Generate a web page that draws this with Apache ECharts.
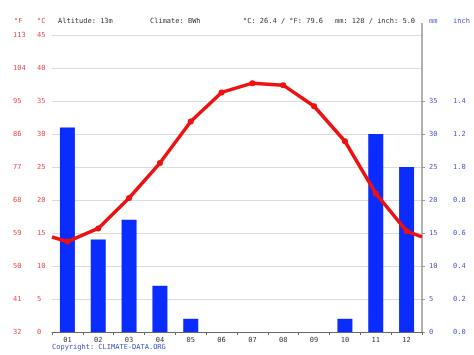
<!DOCTYPE html>
<html><head><meta charset="utf-8">
<script src="https://cdn.jsdelivr.net/npm/echarts@6/dist/echarts.min.js"></script>
<style>html,body{margin:0;padding:0;background:#fff}#c{width:474px;height:355px}</style>
</head><body><div id="c"></div>
<script>
const months = ['01','02','03','04','05','06','07','08','09','10','11','12'];
const tempC = [13.7,15.7,20.3,25.6,31.9,36.3,37.7,37.4,34.2,28.9,21.0,15.3];
const edgeTempC = 14.4; // where the line meets the plot edges
const precipMm = [31,14,17,7,2,0,0,0,0,2,30,25];
const cLabels = ['0','5','10','15','20','25','30','35','40','45'];
const fLabels = ['32','41','50','59','68','77','86','95','104','113'];
const mmLabels = ['0','5','10','15','20','25','30','35'];
const inchLabels = ['0.0','0.2','0.4','0.6','0.8','1.0','1.2','1.4'];

const FONT = 'DejaVu Sans Mono';
const RED = '#e8474d', BLUE = '#4a55d0';

const lineData = [{value:[0, edgeTempC], symbol:'none'}]
  .concat(tempC.map((t,i)=>({value:[i+0.5, t]})))
  .concat([{value:[12, edgeTempC], symbol:'none'}]);

const chart = echarts.init(document.getElementById('c'), null, {renderer:'canvas'});
chart.setOption({
  animation:false,
  grid:{left:52, right:52, top:35, bottom:23},
  xAxis:[
    {type:'category', data:months, boundaryGap:true,
     axisLine:{lineStyle:{color:'#666'}},
     axisTick:{show:true, length:3, interval:0, lineStyle:{color:'#666'}},
     axisLabel:{color:'#333', fontFamily:FONT, fontSize:7, margin:5, interval:0},
     splitLine:{show:false}},
    {type:'value', min:0, max:12, show:false}
  ],
  yAxis:[
    {type:'value', min:0, max:45, interval:5, position:'left',
     axisLine:{show:false}, axisTick:{show:false},
     axisLabel:{color:RED, fontFamily:FONT, fontSize:7, align:'left', margin:15,
       formatter:v=>cLabels[Math.round(v/5)]},
     splitLine:{show:true, lineStyle:{color:'#dcdcdc', width:1}}},
    {type:'value', min:0, max:45, interval:5, position:'left',
     axisLine:{show:false}, axisTick:{show:false},
     axisLabel:{color:RED, fontFamily:FONT, fontSize:7, align:'left', margin:39,
       formatter:v=>fLabels[Math.round(v/5)]},
     splitLine:{show:false}},
    {type:'value', min:0, max:45, interval:5, position:'right',
     axisLine:{show:true, lineStyle:{color:'#999', width:1.5}},
     axisTick:{show:true, length:3, inside:false, customValues:[0,5,10,15,20,25,30,35], lineStyle:{color:'#999'}},
     axisLabel:{color:BLUE, fontFamily:FONT, fontSize:7, margin:7, customValues:[0,5,10,15,20,25,30,35],
       formatter:v=>mmLabels[Math.round(v/5)]},
     splitLine:{show:false}},
    {type:'value', min:0, max:45, interval:5, position:'right',
     axisLine:{show:false}, axisTick:{show:false},
     axisLabel:{color:BLUE, fontFamily:FONT, fontSize:7, margin:31, customValues:[0,5,10,15,20,25,30,35],
       formatter:v=>inchLabels[Math.round(v/5)]},
     splitLine:{show:false}}
  ],
  series:[
    {type:'bar', xAxisIndex:0, yAxisIndex:2, data:precipMm, barWidth:15,
     itemStyle:{color:'#0a2cff'}, z:2},
    {type:'line', xAxisIndex:1, yAxisIndex:0, data:lineData,
     symbol:'circle', symbolSize:6, lineStyle:{color:'#ee1111', width:3.5},
     itemStyle:{color:'#ee1111'}, z:5}
  ],
  graphic:[
    {type:'line', shape:{x1:422, y1:23, x2:422, y2:35}, style:{stroke:'#999', lineWidth:1.5}},
    {type:'text', left:14, top:18, style:{text:'°F', fill:RED, font:'7px '+FONT}},
    {type:'text', left:37, top:18, style:{text:'°C', fill:RED, font:'7px '+FONT}},
    {type:'text', left:58, top:18, style:{text:'Altitude: 13m', fill:'#333', font:'7px '+FONT}},
    {type:'text', left:150, top:18, style:{text:'Climate: BWh', fill:'#333', font:'7px '+FONT}},
    {type:'text', left:243, top:18, style:{text:'°C: 26.4 / °F: 79.6', fill:'#333', font:'7px '+FONT}},
    {type:'text', left:335, top:18, style:{text:'mm: 128 / inch: 5.0', fill:'#333', font:'7px '+FONT}},
    {type:'text', left:429, top:18, style:{text:'mm', fill:BLUE, font:'7px '+FONT}},
    {type:'text', left:453, top:18, style:{text:'inch', fill:BLUE, font:'7px '+FONT}},
    {type:'text', left:52, top:344, style:{text:'Copyright: CLIMATE-DATA.ORG', fill:'#3a50c8', font:'7px '+FONT}}
  ]
});
</script></body></html>
